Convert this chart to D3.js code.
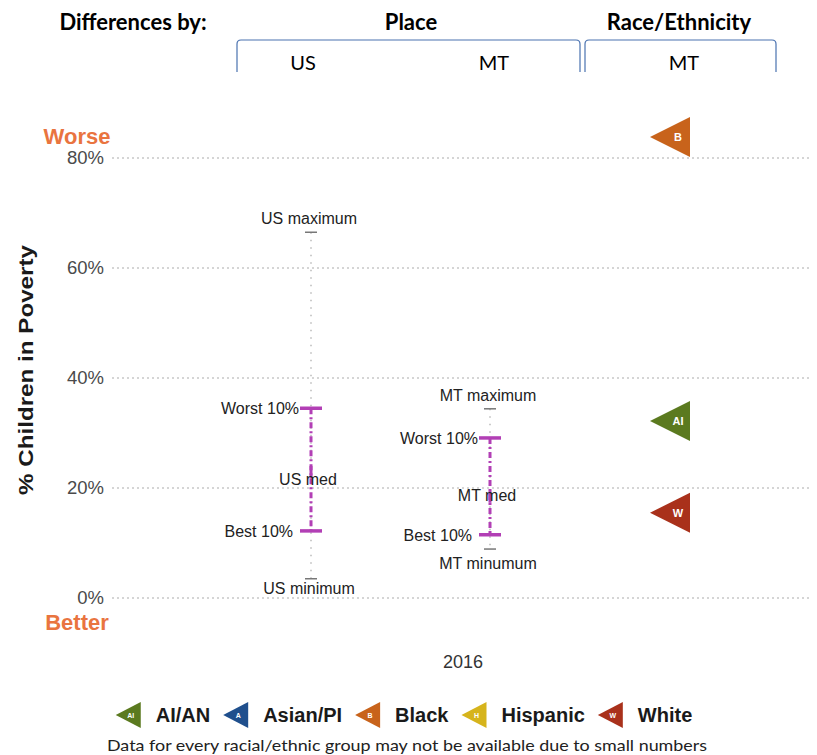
<!DOCTYPE html>
<html>
<head>
<meta charset="utf-8">
<script src="https://cdn.jsdelivr.net/npm/d3@7"></script>
<style>
  body { margin: 0; background: #fff; }
  svg { display: block; }
</style>
</head>
<body>
<svg id="chart" width="817" height="755"></svg>
<script>
// data
const yTicks = [0, 20, 40, 60, 80]
const columns = ["US", "MT", "Race"]

// place summaries (% children in poverty)
const placeNames = ["US", "MT"]
const placeMax = [66.5, 34.4]
const placeWorst = [34.5, 29.1]
const placeMedian = [22.9, 18.4]
const placeBest = [12.2, 11.5]
const placeMin = [3.5, 8.9]
const maxLabels = ["US maximum", "MT maximum"]
const minLabels = ["US minimum", "MT minumum"]
const medLabels = ["US med", "MT med"]

// race/ethnicity in MT
const raceCodes = ["B", "AI", "W"]
const raceValues = [83.8, 32.2, 15.5]
const raceGroups = ["Black", "AI/AN", "White"]

// legend
const legendNames = ["AI/AN", "Asian/PI", "Black", "Hispanic", "White"]
const legendCodes = ["AI", "A", "B", "H", "W"]
const legendColors = ["#5b7a1f", "#1f4f8d", "#c8631b", "#d6b41c", "#a9311b"]

const svg = d3.select("#chart")
const color = d3.scaleOrdinal().domain(legendNames).range(legendColors)

const y = d3.scaleLinear().domain([0, 80]).range([598, 158])
const x = d3.scaleOrdinal().domain(columns).range([311, 490, 690])

const sans = "'Liberation Sans', Arial, sans-serif"
const hdrFont = "Lato, 'Open Sans', sans-serif"

//header
svg.append("text").attr("x", 133).attr("y", 30).attr("text-anchor", "middle")
  .style("font", "bold 22px " + hdrFont).text("Differences by:")
svg.append("text").attr("x", 411).attr("y", 30).attr("text-anchor", "middle")
  .style("font", "bold 22px " + hdrFont).text("Place")
svg.append("text").attr("x", 679).attr("y", 30).attr("text-anchor", "middle")
  .style("font", "bold 22px " + hdrFont).text("Race/Ethnicity")

const brackets = [[237, 580], [585, 776]]
brackets.forEach(([a, b]) => {
  svg.append("path")
    .attr("d", `M${a},72 V44 Q${a},40 ${a + 4},40 H${b - 4} Q${b},40 ${b},44 V72`)
    .attr("fill", "none").attr("stroke", "#4a72b0").attr("stroke-width", 1.2)
})
;[["US", 303], ["MT", 494], ["MT", 684]].forEach(([t, px]) => {
  svg.append("text").attr("x", px).attr("y", 70).attr("text-anchor", "middle")
    .style("font", "20px " + hdrFont).text(t)
})

//grid + axis
svg.selectAll("line.grid").data(yTicks).join("line")
  .attr("class", "grid")
  .attr("x1", 112).attr("x2", 812)
  .attr("y1", (d) => y(d)).attr("y2", (d) => y(d))
  .attr("stroke", "#c8c8c8").attr("stroke-width", 1.3)
  .attr("stroke-dasharray", "2,3")

const axis = d3.axisLeft(y).tickValues(yTicks).tickFormat((d) => d + "%").tickSize(0).tickPadding(0)
const ax = svg.append("g").attr("transform", "translate(104,0)").call(axis)
ax.select(".domain").remove()
ax.selectAll("text").style("font", "18.5px " + sans).attr("fill", "#4a4a4a")

svg.append("text").attr("x", 77).attr("y", y(80) - 14).attr("text-anchor", "middle")
  .style("font", "bold 22px " + sans).attr("fill", "#e9743f").text("Worse")
svg.append("text").attr("x", 77).attr("y", y(0) + 32).attr("text-anchor", "middle")
  .style("font", "bold 22px " + sans).attr("fill", "#e9743f").text("Better")

svg.append("text")
  .attr("transform", `translate(33,${(y(0) + y(80)) / 2 - 8}) rotate(-90)`)
  .attr("text-anchor", "middle")
  .attr("textLength", 250).attr("lengthAdjust", "spacingAndGlyphs")
  .style("font", "bold 21px " + sans).attr("fill", "#1a1a1a")
  .text("% Children in Poverty")

svg.append("text").attr("x", 463).attr("y", 668).attr("text-anchor", "middle")
  .style("font", "18px " + sans).attr("fill", "#333").text("2016")

//place ranges
const lblFont = "16px " + sans
const pink = "#b23fb5"
placeNames.forEach((name, i) => {
  const cx = x(name)
  const pg = svg.append("g")
  pg.append("line").attr("x1", cx).attr("x2", cx)
    .attr("y1", y(placeMax[i])).attr("y2", y(placeMin[i]))
    .attr("stroke", "#bbb").attr("stroke-width", 1.5).attr("stroke-dasharray", "1.5,6")
  pg.append("line").attr("x1", cx).attr("x2", cx)
    .attr("y1", y(placeWorst[i])).attr("y2", y(placeBest[i]))
    .attr("stroke", pink).attr("stroke-width", 3).attr("stroke-dasharray", "6,3,2,3")
  ;[placeMax[i], placeMin[i]].forEach((v) => {
    pg.append("line").attr("x1", cx - 6).attr("x2", cx + 6)
      .attr("y1", y(v)).attr("y2", y(v)).attr("stroke", "#777").attr("stroke-width", 1.5)
  })
  ;[placeWorst[i], placeBest[i]].forEach((v) => {
    pg.append("line").attr("x1", cx - 11).attr("x2", cx + 11)
      .attr("y1", y(v)).attr("y2", y(v)).attr("stroke", pink).attr("stroke-width", 3.5)
  })
  pg.append("line").attr("x1", cx).attr("x2", cx)
    .attr("y1", y(placeMedian[i]) - 6).attr("y2", y(placeMedian[i]) + 6)
    .attr("stroke", pink).attr("stroke-width", 3)

  pg.append("text").attr("x", cx - 2).attr("y", y(placeMax[i]) - 8).attr("text-anchor", "middle")
    .style("font", lblFont).attr("fill", "#222").text(maxLabels[i])
  pg.append("text").attr("x", cx - 2).attr("y", y(placeMin[i]) + (i ? 20 : 15)).attr("text-anchor", "middle")
    .style("font", lblFont).attr("fill", "#222").text(minLabels[i])
  pg.append("text").attr("x", cx - 12).attr("y", y(placeWorst[i]) + 6).attr("text-anchor", "end")
    .style("font", lblFont).attr("fill", "#222").text("Worst 10%")
  pg.append("text").attr("x", cx - 18).attr("y", y(placeBest[i]) + 6).attr("text-anchor", "end")
    .style("font", lblFont).attr("fill", "#222").text("Best 10%")
  pg.append("text").attr("x", cx - 3).attr("y", y(placeMedian[i]) + (i ? 4 : 13)).attr("text-anchor", "middle")
    .style("font", lblFont).attr("fill", "#222").text(medLabels[i])
})

//race triangles
function tri(sel, w, h) {
  return sel.append("path").attr("d", `M${-w},0 L0,${-h / 2} L0,${h / 2} Z`)
}
raceCodes.forEach((code, i) => {
  const tg = svg.append("g").attr("transform", `translate(${x("Race")},${y(raceValues[i])})`)
  tri(tg, 40, 40).attr("fill", color(raceGroups[i]))
  tg.append("text").attr("x", -12).attr("y", 4).attr("text-anchor", "middle")
    .style("font", "bold 11px " + sans).attr("fill", "#fff").text(code)
})

//legend
const leg = svg.append("g")
let lx = 0
legendNames.forEach((name, i) => {
  const ig = leg.append("g")
  tri(ig.append("g").attr("transform", "translate(25,0)"), 25, 26).attr("fill", legendColors[i])
  ig.append("text").attr("x", 15).attr("y", 3).attr("text-anchor", "middle")
    .style("font", "bold 7px " + sans).attr("fill", "#fff").text(legendCodes[i])
  const t = ig.append("text").attr("x", 40).attr("y", 7)
    .style("font", "bold 20px " + sans).attr("fill", "#1a1a1a").text(name)
  const w = 40 + t.node().getComputedTextLength()
  ig.attr("transform", `translate(${lx},0)`)
  lx += w + 13
})
const totalW = lx - 13
leg.attr("transform", `translate(${404 - totalW / 2},715)`)

svg.append("text").attr("x", 407).attr("y", 751).attr("text-anchor", "middle")
  .attr("textLength", 600).attr("lengthAdjust", "spacingAndGlyphs")
  .style("font", "16px Lato, 'Open Sans', sans-serif").attr("fill", "#222")
  .text("Data for every racial/ethnic group may not be available due to small numbers")
</script>
</body>
</html>
